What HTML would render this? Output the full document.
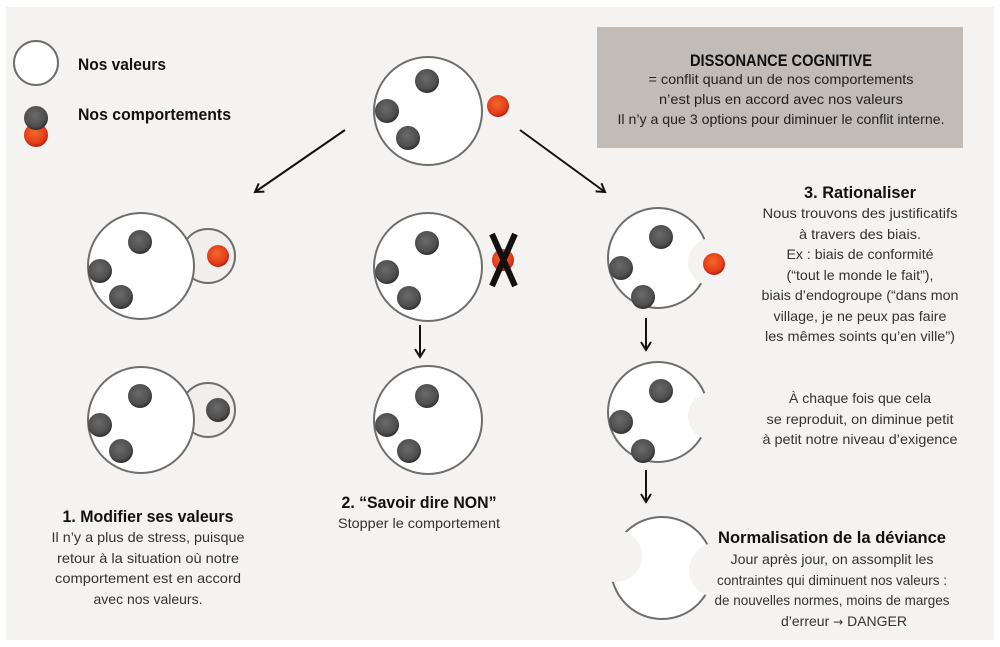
<!DOCTYPE html>
<html><head><meta charset="utf-8"><style>
html,body{margin:0;padding:0;background:#fff;}
svg{display:block;}
text{font-family:"Liberation Sans Narrow","Liberation Sans",sans-serif;fill:#222;}
.b{font-weight:bold;font-size:17px;fill:#111;}
.t{font-size:14px;fill:#333;}
</style></head><body>
<svg width="1000" height="647" viewBox="0 0 1000 647" xmlns="http://www.w3.org/2000/svg">
<defs>
<radialGradient id="g" cx="45%" cy="40%" r="60%"><stop offset="0" stop-color="#6a6a6a"/><stop offset="0.75" stop-color="#4e4e4e"/><stop offset="1" stop-color="#2e2e2e"/></radialGradient>
<radialGradient id="r" cx="45%" cy="40%" r="60%"><stop offset="0" stop-color="#f26a2a"/><stop offset="0.75" stop-color="#e33c1a"/><stop offset="1" stop-color="#b8200f"/></radialGradient>
<marker id="ah" markerWidth="12" markerHeight="12" refX="9" refY="6" orient="auto" markerUnits="userSpaceOnUse"><path d="M1,1 L9,6 L1,11" fill="none" stroke="#111" stroke-width="2"/></marker>
<mask id="m2" maskUnits="userSpaceOnUse" x="0" y="0" width="1000" height="647"><rect width="1000" height="647" fill="#fff"/><circle cx="712" cy="262" r="24" fill="#000"/></mask>
<mask id="m3" maskUnits="userSpaceOnUse" x="0" y="0" width="1000" height="647"><rect width="1000" height="647" fill="#fff"/><circle cx="712" cy="416" r="24" fill="#000"/></mask>
<mask id="m4" maskUnits="userSpaceOnUse" x="0" y="0" width="1000" height="647"><rect width="1000" height="647" fill="#fff"/><circle cx="716" cy="570" r="27" fill="#000"/><circle cx="616" cy="556" r="26" fill="#000"/><circle cx="602" cy="612" r="14" fill="#000"/></mask>
</defs>
<rect x="6" y="7" width="988" height="633" fill="#f4f3f2"/>
<!-- legend -->
<circle cx="36" cy="63" r="22" fill="#fff" stroke="#6e6e6e" stroke-width="2"/>
<text class="b" x="78" y="70" textLength="88" lengthAdjust="spacingAndGlyphs">Nos valeurs</text>
<circle cx="36" cy="135" r="12" fill="url(#r)"/>
<circle cx="36" cy="118" r="12" fill="url(#g)"/>
<text class="b" x="78" y="120" textLength="153" lengthAdjust="spacingAndGlyphs">Nos comportements</text>
<!-- box -->
<rect x="597" y="27" width="366" height="121" fill="#c2bcb8"/>
<text class="b" x="781" y="66" text-anchor="middle" textLength="182" lengthAdjust="spacingAndGlyphs">DISSONANCE COGNITIVE</text>
<text class="t" x="781" y="84" text-anchor="middle" textLength="265" lengthAdjust="spacingAndGlyphs" style="fill:#222">= conflit quand un de nos comportements</text>
<text class="t" x="781" y="104" text-anchor="middle" textLength="244" lengthAdjust="spacingAndGlyphs" style="fill:#222">n’est plus en accord avec nos valeurs</text>
<text class="t" x="781" y="124" text-anchor="middle" textLength="327" lengthAdjust="spacingAndGlyphs" style="fill:#222">Il n’y a que 3 options pour diminuer le conflit interne.</text>
<!-- top circle -->
<circle cx="428" cy="111" r="54" fill="#fff" stroke="#6e6e6e" stroke-width="2"/>
<circle cx="427" cy="81" r="12" fill="url(#g)"/><circle cx="387" cy="111" r="12" fill="url(#g)"/><circle cx="408" cy="138" r="12" fill="url(#g)"/>
<circle cx="498" cy="106" r="11" fill="url(#r)"/>
<line x1="345" y1="130" x2="255" y2="192" stroke="#111" stroke-width="2" marker-end="url(#ah)"/>
<line x1="520" y1="130" x2="605" y2="192" stroke="#111" stroke-width="2" marker-end="url(#ah)"/>
<!-- left row2 -->
<circle cx="208" cy="256" r="27" fill="#f0efee" stroke="#6e6e6e" stroke-width="2"/>
<circle cx="141" cy="266" r="53" fill="#fff" stroke="#6e6e6e" stroke-width="2"/>
<circle cx="140" cy="242" r="12" fill="url(#g)"/><circle cx="100" cy="271" r="12" fill="url(#g)"/><circle cx="121" cy="297" r="12" fill="url(#g)"/>
<circle cx="218" cy="256" r="11" fill="url(#r)"/>
<!-- left row3 -->
<circle cx="208" cy="410" r="27" fill="#f0efee" stroke="#6e6e6e" stroke-width="2"/>
<circle cx="141" cy="420" r="53" fill="#fff" stroke="#6e6e6e" stroke-width="2"/>
<circle cx="140" cy="396" r="12" fill="url(#g)"/><circle cx="100" cy="425" r="12" fill="url(#g)"/><circle cx="121" cy="451" r="12" fill="url(#g)"/>
<circle cx="218" cy="410" r="12" fill="url(#g)"/>
<!-- middle row2 -->
<circle cx="428" cy="267" r="54" fill="#fff" stroke="#6e6e6e" stroke-width="2"/>
<circle cx="427" cy="243" r="12" fill="url(#g)"/><circle cx="387" cy="272" r="12" fill="url(#g)"/><circle cx="409" cy="298" r="12" fill="url(#g)"/>
<circle cx="503" cy="260" r="11" fill="url(#r)"/>
<line x1="492" y1="234" x2="515" y2="286" stroke="#111" stroke-width="6"/>
<line x1="515" y1="234" x2="492" y2="286" stroke="#111" stroke-width="6"/>
<line x1="420" y1="325" x2="420" y2="357" stroke="#111" stroke-width="2" marker-end="url(#ah)"/>
<!-- middle row3 -->
<circle cx="428" cy="420" r="54" fill="#fff" stroke="#6e6e6e" stroke-width="2"/>
<circle cx="427" cy="396" r="12" fill="url(#g)"/><circle cx="387" cy="425" r="12" fill="url(#g)"/><circle cx="409" cy="451" r="12" fill="url(#g)"/>
<!-- right row2 -->
<circle cx="658" cy="258" r="50" fill="#fff" stroke="#6e6e6e" stroke-width="2" mask="url(#m2)"/>
<circle cx="661" cy="237" r="12" fill="url(#g)"/><circle cx="621" cy="268" r="12" fill="url(#g)"/><circle cx="643" cy="297" r="12" fill="url(#g)"/>
<circle cx="714" cy="264" r="11" fill="url(#r)"/>
<line x1="646" y1="318" x2="646" y2="350" stroke="#111" stroke-width="2" marker-end="url(#ah)"/>
<!-- right row3 -->
<circle cx="658" cy="412" r="50" fill="#fff" stroke="#6e6e6e" stroke-width="2" mask="url(#m3)"/>
<circle cx="661" cy="391" r="12" fill="url(#g)"/><circle cx="621" cy="422" r="12" fill="url(#g)"/><circle cx="643" cy="451" r="12" fill="url(#g)"/>
<line x1="646" y1="470" x2="646" y2="502" stroke="#111" stroke-width="2" marker-end="url(#ah)"/>
<!-- right row4 -->
<circle cx="662" cy="568" r="51" fill="#fff" stroke="#6e6e6e" stroke-width="2" mask="url(#m4)"/>
<!-- texts -->
<text class="b" x="148" y="522" text-anchor="middle" textLength="171" lengthAdjust="spacingAndGlyphs">1. Modifier ses valeurs</text>
<text class="t" x="148" y="542" text-anchor="middle" textLength="193" lengthAdjust="spacingAndGlyphs">Il n’y a plus de stress, puisque</text>
<text class="t" x="148" y="563" text-anchor="middle" textLength="182" lengthAdjust="spacingAndGlyphs">retour à la situation où notre</text>
<text class="t" x="148" y="583" text-anchor="middle" textLength="186" lengthAdjust="spacingAndGlyphs">comportement est en accord</text>
<text class="t" x="148" y="604" text-anchor="middle" textLength="109" lengthAdjust="spacingAndGlyphs">avec nos valeurs.</text>
<text class="b" x="419" y="508" text-anchor="middle" textLength="155" lengthAdjust="spacingAndGlyphs">2. “Savoir dire NON”</text>
<text class="t" x="419" y="528" text-anchor="middle" textLength="162" lengthAdjust="spacingAndGlyphs">Stopper le comportement</text>
<text class="b" x="860" y="198" text-anchor="middle" textLength="112" lengthAdjust="spacingAndGlyphs">3. Rationaliser</text>
<text class="t" x="860" y="218" text-anchor="middle" textLength="195" lengthAdjust="spacingAndGlyphs">Nous trouvons des justificatifs</text>
<text class="t" x="860" y="239" text-anchor="middle" textLength="122" lengthAdjust="spacingAndGlyphs">à travers des biais.</text>
<text class="t" x="860" y="259" text-anchor="middle" textLength="147" lengthAdjust="spacingAndGlyphs">Ex : biais de conformité</text>
<text class="t" x="860" y="280" text-anchor="middle" textLength="147" lengthAdjust="spacingAndGlyphs">(“tout le monde le fait”),</text>
<text class="t" x="860" y="300" text-anchor="middle" textLength="197" lengthAdjust="spacingAndGlyphs">biais d’endogroupe (“dans mon</text>
<text class="t" x="860" y="321" text-anchor="middle" textLength="173" lengthAdjust="spacingAndGlyphs">village, je ne peux pas faire</text>
<text class="t" x="860" y="341" text-anchor="middle" textLength="190" lengthAdjust="spacingAndGlyphs">les mêmes soints qu’en ville”)</text>
<text class="t" x="860" y="403" text-anchor="middle" textLength="142" lengthAdjust="spacingAndGlyphs">À chaque fois que cela</text>
<text class="t" x="860" y="424" text-anchor="middle" textLength="187" lengthAdjust="spacingAndGlyphs">se reproduit, on diminue petit</text>
<text class="t" x="860" y="444" text-anchor="middle" textLength="195" lengthAdjust="spacingAndGlyphs">à petit notre niveau d’exigence</text>
<text class="b" x="832" y="543" text-anchor="middle" textLength="228" lengthAdjust="spacingAndGlyphs">Normalisation de la déviance</text>
<text class="t" x="832" y="564" text-anchor="middle" textLength="203" lengthAdjust="spacingAndGlyphs">Jour après jour, on assomplit les</text>
<text class="t" x="832" y="585" text-anchor="middle" textLength="230" lengthAdjust="spacingAndGlyphs">contraintes qui diminuent nos valeurs :</text>
<text class="t" x="832" y="605" text-anchor="middle" textLength="235" lengthAdjust="spacingAndGlyphs">de nouvelles normes, moins de marges</text>
<text class="t" x="781" y="626">d’erreur <tspan style="font-family:'DejaVu Sans',sans-serif;font-size:12px">→</tspan> DANGER</text>
</svg>
</body></html>
